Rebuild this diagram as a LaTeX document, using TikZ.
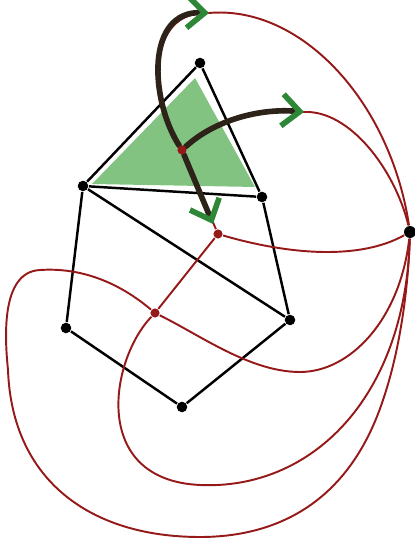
\documentclass[tikz,border=0pt]{standalone}
\usepackage{tikz}
\usetikzlibrary{arrows.meta,backgrounds}

\definecolor{dualred}{RGB}{150,25,25}
\definecolor{tipgreen}{RGB}{45,135,55}
\definecolor{facegreen}{RGB}{130,195,130}
\definecolor{darkpath}{RGB}{45,35,25}

\tikzset{
  vtx/.style={circle,fill=black,inner sep=0pt,minimum size=3pt},
  dvtx/.style={circle,fill=dualred,inner sep=0pt,minimum size=2.6pt},
  edge/.style={line width=0.7pt},
  dual/.style={dualred,line width=0.55pt},
  flow/.style={darkpath,line width=1.6pt,line cap=round,
    -{Straight Barb[color=tipgreen,length=5pt,width=9pt,line width=1.6pt]}}
}

\begin{document}
\begin{tikzpicture}[x=0.01cm,y=0.01cm]
  \useasboundingbox (0,0) rectangle (414,540);
  % primal graph
  \node[vtx] (a) at (200,477) {};
  \node[vtx] (b) at (83,354) {};
  \node[vtx] (c) at (262,343) {};
  \node[vtx] (d) at (66,212) {};
  \node[vtx] (e) at (290,220) {};
  \node[vtx] (f) at (182,133) {};
  % dual graph
  \node[vtx,minimum size=3.4pt] (out) at (410,308) {};
  \node[dvtx] (r1) at (182,390) {};
  \node[dvtx] (r2) at (218,306) {};
  \node[dvtx] (r3) at (155,227) {};
  \coordinate (t1) at (209,527);
  \coordinate (t2) at (304,428);
  \coordinate (t3) at (213,316);

  \begin{scope}[on background layer]
    \fill[facegreen] (92,356) -- (195,462) -- (255,353) -- cycle;
    \draw[edge] (a) -- (b) -- (c) -- (a);
    \draw[edge] (b) -- (d) -- (f) -- (e) -- (c);
    \draw[edge] (b) -- (e);
    % dual edges
    \draw[dual] (r1) .. controls (150,440) and (145,530) .. (t1)
      .. controls (300,535) and (390,440) .. (out);
    \draw[dual] (r1) .. controls (215,420) and (260,432) .. (t2)
      .. controls (350,430) and (395,370) .. (out);
    \draw[dual] (r1) -- (r2) -- (r3);
    \draw[dual] (r2) .. controls (290,285) and (360,280) .. (out);
    \draw[dual] (r3) .. controls (200,205) and (250,168) .. (300,168)
      .. controls (350,168) and (400,220) .. (out);
    \draw[dual] (r3) .. controls (110,180) and (90,60) .. (200,55)
      .. controls (310,50) and (405,140) .. (out);
    \draw[dual] (r3) .. controls (110,265) and (70,272) .. (40,270)
      .. controls (0,268) and (5,200) .. (8,170)
      .. controls (12,60) and (90,3) .. (200,3)
      .. controls (280,3) and (350,40) .. (383,140)
      .. controls (400,190) and (408,250) .. (out);
    % orientation around the green face
    \draw[flow] (r1) .. controls (150,440) and (145,530) .. (t1);
    \draw[flow] (r1) .. controls (215,420) and (260,432) .. (t2);
    \draw[flow] (r1) -- (t3);
  \end{scope}
\end{tikzpicture}
\end{document}
